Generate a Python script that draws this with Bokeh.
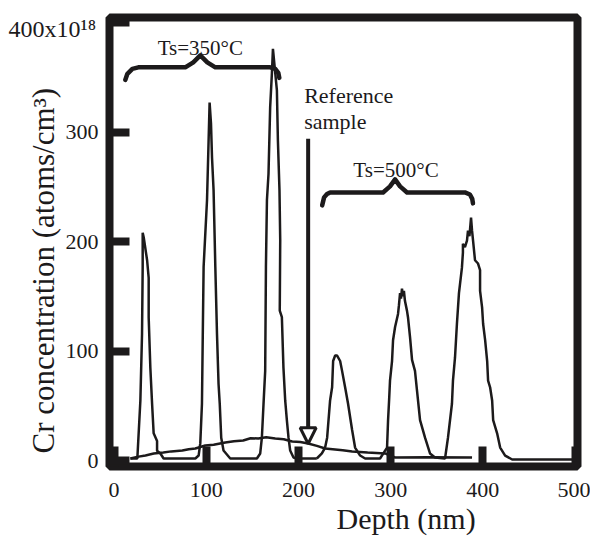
from bokeh.plotting import figure
from bokeh.models import Label, Arrow, NormalHead, FixedTicker, Range1d, Title, LinearAxis
from bokeh.embed import file_html
from bokeh.resources import INLINE

# ---- data ----
x_ticks = [0, 100, 200, 300, 400, 500]
y_ticks = [0, 100, 200, 300, 400]
y_tick_labels = {400: ""}
y_top_label = "400x10¹⁸"

# Ts = 350 C sample (three Cr layers)
depth_350 = [17.7, 25.2, 28.5, 30.3, 31.0, 31.0, 32.1, 35.8, 37.5, 37.5, 39.3, 41.2, 42.9,
             46.6, 46.6, 50.2, 53.7, 88.1, 91.7, 93.5, 95.3, 96.2, 97.1, 100.8, 102.5, 103.6,
             105.1, 106.2, 107.9, 109.8, 111.6, 113.3, 114.6, 116.2, 118.7, 126.0, 154.9,
             158.5, 160.3, 162.1, 163.9, 164.7, 165.8, 167.5, 169.3, 171.2, 172.3, 174.8,
             176.6, 177.7, 179.4, 180.2, 179.7, 182.0, 183.7, 185.6, 187.4, 189.2, 191.0,
             194.6, 198.3, 219.9]
conc_350 = [2, 2, 55, 116, 177, 208, 204, 183, 167, 131, 85, 52, 25,
            18, 9, 6.6, 2, 2, 4.7, 16, 52, 116, 177, 238, 292, 327,
            308, 277, 247, 177, 116, 70, 52, 21, 9.3, 2, 2,
            6.6, 21, 52, 82, 177, 238, 262, 323, 354, 376, 354,
            338, 292, 247, 201, 137, 131, 85, 55, 37, 21, 9.3,
            2.9, 2, 2]

# Ts = 500 C sample (three Cr layers)
depth_500 = [219.9, 225.4, 228.9, 231.1, 234.3, 236.5, 237.6, 239.8, 241.9, 245.2, 247.3,
             250.6, 253.8, 258.2, 261.4, 266.9, 272.3, 288.5, 296.1, 297.2, 298.3, 299.3,
             301.5, 302.6, 304.8, 308.0, 309.0, 310.2, 311.2, 312.3, 313.3, 314.4, 315.5, 317.7,
             318.8, 321.0, 323.2, 326.4, 328.6, 331.9, 337.3, 342.7, 348.1, 359.0, 362.2,
             366.5, 367.6, 369.8, 371.9, 374.1, 377.3, 378.4, 378.4, 380.6, 382.8, 383.9,
             385.5, 387.2, 388.3, 389.4, 391.5, 394.8, 397.0, 397.0, 399.2, 400.3, 402.5,
             404.7, 405.7, 407.9, 410.1, 411.2, 415.5, 418.8, 424.2, 431.8, 496.8]
conc_500 = [2, 6.6, 12, 21, 55, 67, 91, 96, 96, 91, 82,
            67, 52, 28, 12, 4.7, 2, 2, 12, 37, 55, 73,
            91, 110, 122, 134, 142, 153, 148, 157, 150, 155, 146, 137,
            131, 113, 92, 82, 64, 37, 21, 6.6, 2.9, 2, 21,
            52, 73, 94, 125, 153, 176, 190, 198, 195, 201, 210,
            205, 222, 210, 201, 183, 180, 174, 155, 140, 125, 110,
            91, 73, 67, 55, 37, 25, 12, 4.7, 1.1, 1.1]

# Reference sample (no Cr layer)
depth_ref = [17.7, 25.0, 34.0, 43.0, 53.4, 62.0, 74.0, 81.0, 88.1, 98.9, 108.0, 120.6, 130.0,
             140.0, 148.0, 156.4, 165.0, 174.8, 184.0, 193.2, 202.0, 210.5, 220.0, 228.9,
             239.8, 248.0, 258.2, 275.0, 293.9, 304.8, 340.0, 388.3]
conc_ref = [2, 3.5, 4.7, 6.5, 7.5, 8.5, 9.3, 10.5, 11.1, 13.9, 14.5, 16.6, 17.8,
            18.5, 20.5, 20.3, 21.5, 20.3, 19.6, 17.5, 17.0, 15.7, 13.5, 11.1,
            10.2, 9.5, 8.4, 7.5, 6.6, 2.9, 3.1, 2.9]

INK = "#1c1a1b"
SERIF = "Liberation Serif"

p = figure(width=590, height=544,
           x_range=Range1d(-5.0, 502.7), y_range=Range1d(-5.3, 404.6),
           output_backend="svg", toolbar_location=None,
           min_border_left=109, min_border_right=13,
           min_border_top=17, min_border_bottom=78)
p.grid.visible = False
p.background_fill_color = "white"
p.border_fill_color = "white"
p.outline_line_color = INK
p.outline_line_width = 8

for ax in (p.xaxis[0], p.yaxis[0]):
    ax.axis_line_color = None
    ax.major_tick_in = 20
    ax.major_tick_out = 0
    ax.major_tick_line_width = 8
    ax.major_tick_line_color = INK
    ax.minor_tick_line_color = None
    ax.major_label_text_font = SERIF
    ax.major_label_text_font_size = "22px"
    ax.major_label_text_color = INK

p.xaxis.ticker = FixedTicker(ticks=x_ticks)
p.yaxis.ticker = FixedTicker(ticks=y_ticks)
p.xaxis.major_label_standoff = 16
p.yaxis.major_label_standoff = 11
p.yaxis.major_label_overrides = y_tick_labels

# top-left unit label "400x10^18" carried by a tick-less axis above the frame
# (a tiny negative orientation makes the label right-aligned at the tick)
top_axis = LinearAxis(ticker=FixedTicker(ticks=[0]),
                      major_label_overrides={0: y_top_label + "\u00a0\u00a0\u00a0"},
                      major_label_orientation=-1e-6,
                      axis_line_color=None, major_tick_line_color=None,
                      minor_tick_line_color=None, major_tick_in=0, major_tick_out=0,
                      major_label_standoff=-12,
                      major_label_text_font=SERIF, major_label_text_font_size="24px",
                      major_label_text_color=INK)
p.add_layout(top_axis, "above")

# axis titles as side-panel titles
p.add_layout(Title(text="Depth (nm)", align="left", offset=227, standoff=0,
                   text_font=SERIF, text_font_size="30px", text_font_style="normal",
                   text_color=INK), "below")
p.add_layout(Title(text="Cr concentration (atoms/cm³)", align="left", offset=13, standoff=4,
                   text_font=SERIF, text_font_size="31px", text_font_style="normal",
                   text_color=INK), "left")

# curves
p.line(depth_ref, conc_ref, line_color=INK, line_width=2.5)
p.line(depth_350, conc_350, line_color=INK, line_width=2.5)
p.line(depth_500, conc_500, line_color=INK, line_width=2.5)

# braces
brace1_x = [12.2, 14.4, 19.8, 26.3, 77.2, 85.9, 93.5, 101.1, 109.8, 169.3, 174.8, 178.1, 179.2]
brace1_y = [347.7, 353.2, 357.7, 359.1, 359.1, 363.7, 370.1, 363.7, 359.1, 359.1, 357.7, 354.1, 349.5]
brace2_x = [225.7, 227.8, 231.0, 234.3, 291.8, 299.3, 304.8, 310.2, 317.8, 380.6, 386.0, 388.5, 389.3]
brace2_y = [233.1, 240.4, 243.5, 244.9, 244.9, 250.4, 256.8, 250.4, 244.9, 244.9, 243.0, 239.0, 234.9]
p.line(brace1_x, brace1_y, line_color=INK, line_width=4.5, line_join="round", line_cap="round")
p.line(brace2_x, brace2_y, line_color=INK, line_width=4.5, line_join="round", line_cap="round")

# arrow for reference sample
p.add_layout(Arrow(end=NormalHead(size=16, fill_color="white", line_color=INK, line_width=3),
                   x_start=210.5, y_start=294, x_end=210.5, y_end=15.5,
                   line_color=INK, line_width=4))

def lab(x, y, text, size, align="left"):
    p.add_layout(Label(x=x, y=y, text=text, text_font=SERIF, text_font_size=size,
                       text_align=align, text_baseline="alphabetic", text_color=INK))

lab(93.5, 376.4, "Ts=350°C", "21px", align="center")
lab(305.8, 265.0, "Ts=500°C", "21px", align="center")
lab(206.2, 333.5, "Reference", "22px")
lab(206.2, 310.0, "sample", "22px")

open("out.html", "w").write(file_html(p, INLINE))
